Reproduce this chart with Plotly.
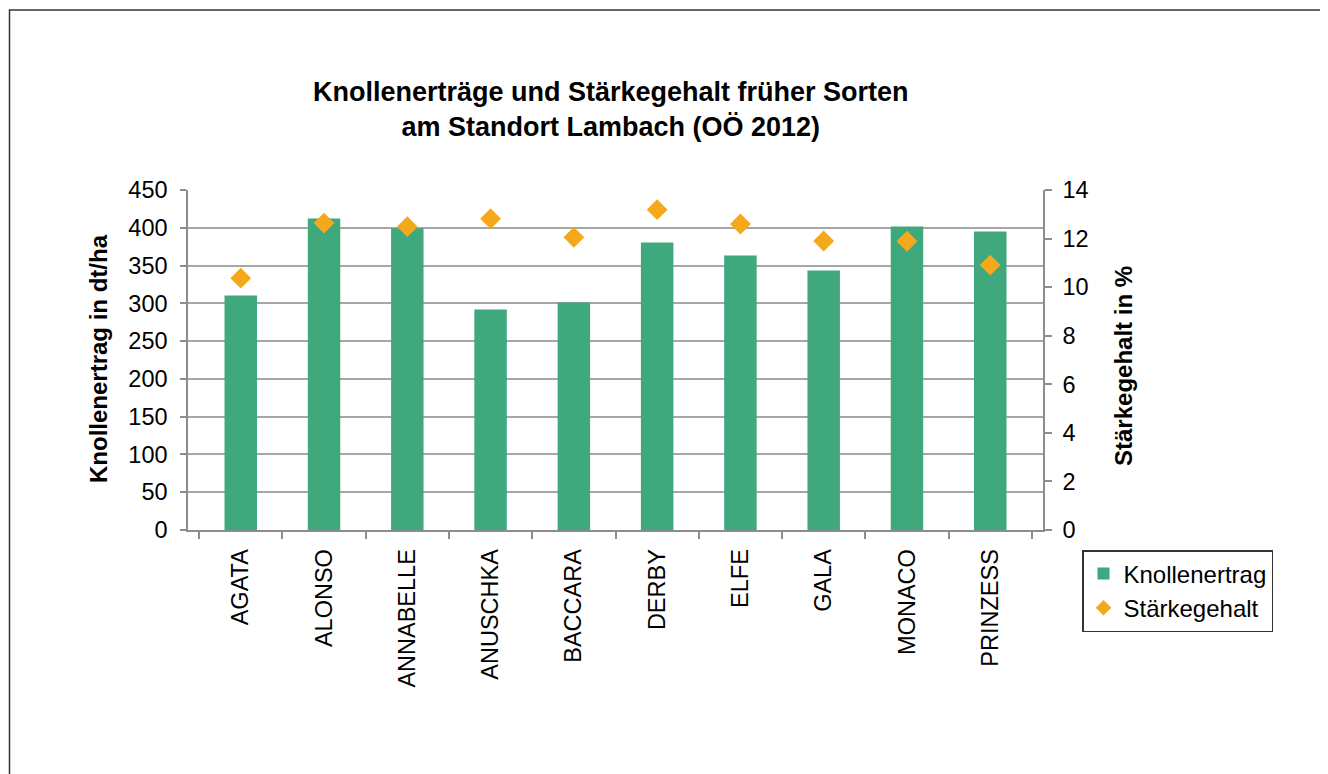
import plotly.graph_objects as go

categories = ["AGATA", "ALONSO", "ANNABELLE", "ANUSCHKA", "BACCARA",
              "DERBY", "ELFE", "GALA", "MONACO", "PRINZESS"]
knollenertrag = [310.5, 412.3, 399.5, 292, 301.2, 380.6, 363.4, 343.5, 401.7, 395]
staerkegehalt = [10.37, 12.64, 12.49, 12.82, 12.05, 13.19, 12.6, 11.9, 11.89, 10.91]

left_ticks = list(range(0, 451, 50))
right_ticks = list(range(0, 15, 2))

title_text = "<b>Knollenerträge und Stärkegehalt früher Sorten<br>am Standort Lambach (OÖ 2012)</b>"

FONT = "Liberation Sans, Arial, sans-serif"
GREEN = "#3fa87c"
ORANGE = "#f6a81b"
AXIS = "#8c8c8c"
GRID = "#a6a6a6"

OFF = 8  # default body margin of the html page
W, H = 1328 - OFF, 774 - OFF
# plot area in page pixels
L, R, T, B = 188, 1043, 190, 530

def px(x):
    return (x - L) / (R - L)

def py(y):
    return (B - y) / (B - T)

fig = go.Figure()
fig.add_trace(go.Bar(
    x=categories, y=knollenertrag, name="Knollenertrag",
    marker=dict(color=GREEN, line=dict(width=0)),
    yaxis="y",
))
fig.add_trace(go.Scatter(
    x=categories, y=staerkegehalt, name="Stärkegehalt", mode="markers",
    marker=dict(symbol="diamond", size=16, color=ORANGE, line=dict(width=0)),
    yaxis="y2",
))

fig.update_layout(
    width=W, height=H,
    margin=dict(l=L - OFF, r=W - (R - OFF), t=T - OFF, b=H - (B - OFF), autoexpand=False),
    paper_bgcolor="white", plot_bgcolor="white",
    font=dict(family=FONT, size=24, color="black"),
    bargap=0.61,
    showlegend=True,
    legend=dict(
        x=px(1082), y=py(550), xanchor="left", yanchor="top",
        bordercolor="#333333", borderwidth=1.5, bgcolor="white",
        font=dict(family=FONT, size=24, color="black"),
        itemsizing="constant", tracegroupgap=0,
    ),
    xaxis=dict(
        type="category", showline=True, linecolor=AXIS, linewidth=1.5,
        ticks="outside", ticklen=7, tickcolor=AXIS, tickwidth=1.5,
        tickson="boundaries", tickangle=-90, ticklabelstandoff=8,
        tickfont=dict(family=FONT, size=23.5, color="black"),
        showgrid=False, automargin=False,
    ),
    yaxis=dict(
        range=[0, 450], tickvals=left_ticks, showline=True, linecolor=AXIS, linewidth=1.5,
        ticks="outside", ticklen=6, tickcolor=AXIS, tickwidth=1.5, ticklabelstandoff=8,
        showgrid=True, gridcolor=GRID, gridwidth=1.5, zeroline=False,
        tickfont=dict(family=FONT, size=23.5, color="black"),
        automargin=False,
    ),
    yaxis2=dict(
        range=[0, 14], tickvals=right_ticks, overlaying="y", side="right",
        showline=True, linecolor=AXIS, linewidth=1.5,
        ticks="outside", ticklen=7, tickcolor=AXIS, tickwidth=1.5, ticklabelstandoff=6,
        showgrid=False, zeroline=False,
        tickfont=dict(family=FONT, size=23.5, color="black"),
        automargin=False,
    ),
    annotations=[
        dict(text=title_text, xref="paper", yref="paper", x=px(611), y=py(110),
             xanchor="center", yanchor="middle", showarrow=False,
             font=dict(family=FONT, size=27, color="black")),
        dict(text="<b>Knollenertrag in dt/ha</b>", xref="paper", yref="paper",
             x=px(98), y=py(359), xanchor="center", yanchor="middle",
             textangle=-90, showarrow=False,
             font=dict(family=FONT, size=24, color="black")),
        dict(text="<b>Stärkegehalt in %</b>", xref="paper", yref="paper",
             x=px(1123), y=py(366), xanchor="center", yanchor="middle",
             textangle=-90, showarrow=False,
             font=dict(family=FONT, size=24, color="black")),
    ],
    shapes=[
        dict(type="rect", xref="paper", yref="paper",
             x0=px(9.5), y0=py(10), x1=px(1500), y1=py(950),
             line=dict(color="#333333", width=1.5), layer="below"),
    ],
)

fig.write_html("out.html")
